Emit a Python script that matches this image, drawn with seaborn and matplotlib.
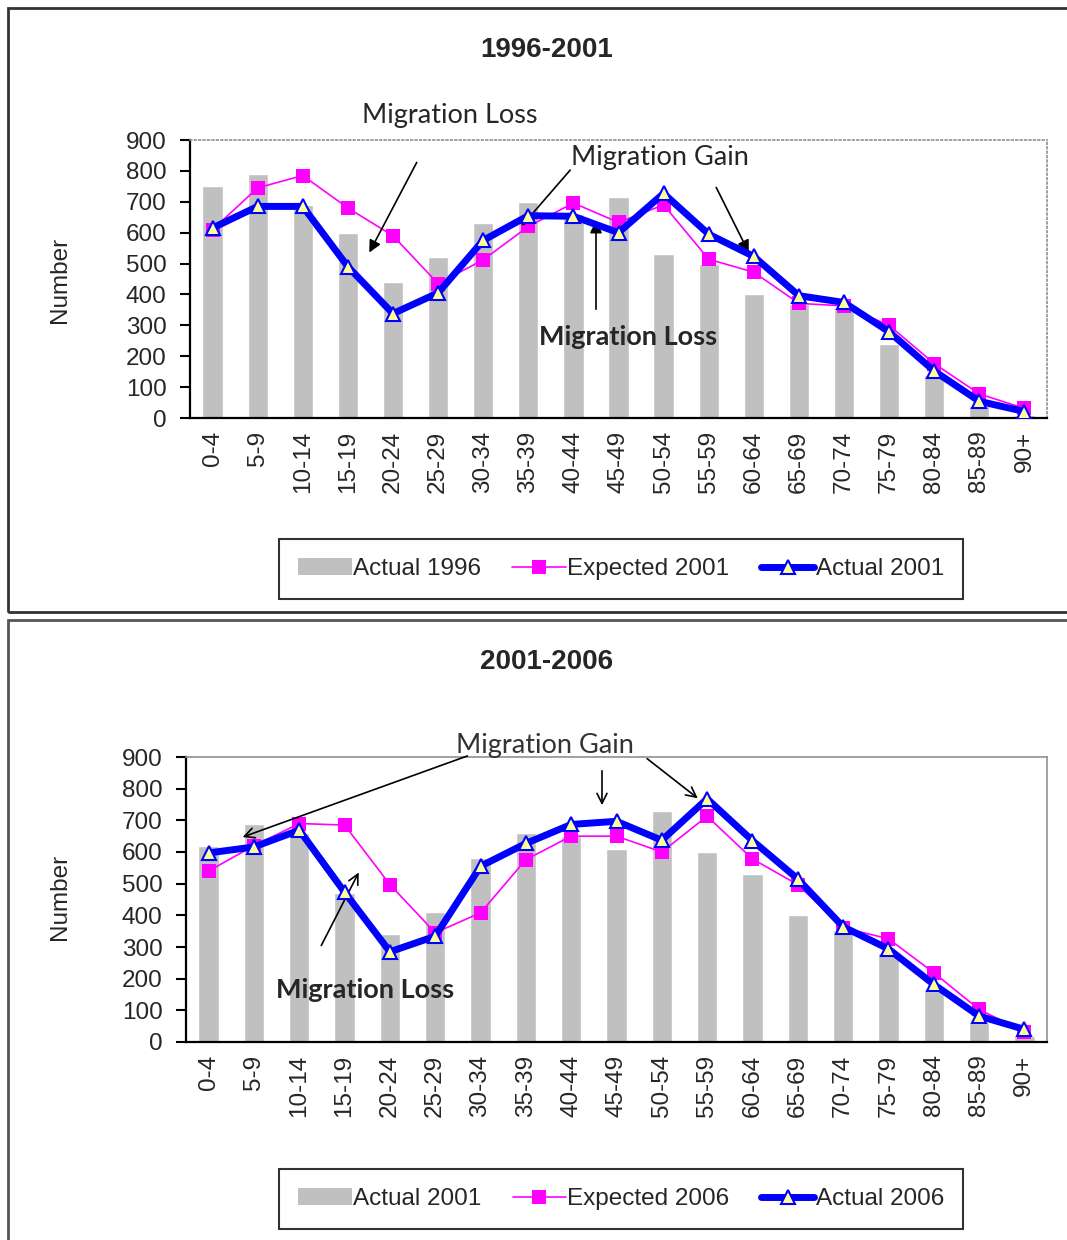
import matplotlib
matplotlib.use("Agg")
import matplotlib.pyplot as plt
import seaborn as sns
from matplotlib.patches import Patch, Rectangle
from matplotlib.lines import Line2D

ages = ["0-4", "5-9", "10-14", "15-19", "20-24", "25-29", "30-34", "35-39", "40-44",
        "45-49", "50-54", "55-59", "60-64", "65-69", "70-74", "75-79", "80-84", "85-89", "90+"]

# 1996-2001 panel
actual_1996 = [750, 790, 690, 600, 440, 520, 630, 700, 660, 715, 530, 500, 400, 370, 355, 240, 140, 40, 10]
expected_2001 = [610, 745, 785, 680, 590, 435, 512, 620, 696, 633, 690, 514, 472, 371, 363, 300, 176, 78, 31]
actual_2001 = [615, 685, 685, 490, 338, 405, 575, 655, 653, 600, 727, 595, 523, 396, 374, 279, 152, 54, 21]

# 2001-2006 panel
actual_2001_b = [620, 690, 660, 470, 340, 410, 580, 660, 650, 611, 729, 599, 529, 400, 355, 280, 161, 61, 20]
expected_2006 = [540, 620, 690, 685, 497, 345, 408, 576, 650, 650, 600, 713, 578, 497, 361, 326, 219, 103, 32]
actual_2006 = [597, 616, 669, 473, 285, 334, 555, 627, 687, 697, 637, 768, 636, 515, 364, 294, 182, 82, 40]

sns.set_theme(style="white")
plt.rcParams["font.family"] = ["Liberation Sans", "DejaVu Sans"]

W, H = 1067, 1240
fig = plt.figure(figsize=(W / 100, H / 100), dpi=100)

BAR = "#c0c0c0"
MAG = "#ff00ff"
BLUE = "#0000ff"
TRI = "#ffff99"
callout = ["Lato", "DejaVu Sans"]
FS = 17.5


def fp(x, y):
    # pixel from top-left -> figure fraction
    return (x / W, 1 - y / H)


def panel(box, bars, exp, act, labels, title, title_y, legend_y, ylab_y, frame_style):
    ax = fig.add_axes(box)
    sns.barplot(x=ages, y=bars, color=BAR, saturation=1, width=0.45, ax=ax, zorder=1)
    sns.pointplot(x=ages, y=exp, color=MAG, markers="s", linestyles="-", errorbar=None,
                  linewidth=1.2, markersize=10, markeredgewidth=0, ax=ax, zorder=3)
    sns.pointplot(x=ages, y=act, color=BLUE, markers="^", linestyles="-", errorbar=None,
                  linewidth=5, markersize=10, markerfacecolor=TRI, markeredgecolor=BLUE,
                  markeredgewidth=1.5, ax=ax, zorder=4)
    ax.set_xlim(-0.5, 18.5)
    ax.set_ylim(0, 900)
    ax.set_yticks(range(0, 901, 100))
    ax.set_xlabel("")
    ax.set_ylabel("")
    ax.set_xticks([i + 0.5 for i in range(-1, 19)], minor=True)
    ax.tick_params(axis="x", which="major", length=0, labelrotation=90, labelsize=FS, pad=9)
    ax.tick_params(axis="x", which="minor", length=7, width=1.5, color="black", direction="out")
    ax.tick_params(axis="y", length=7, width=1.5, color="black", direction="out", labelsize=FS, pad=10)
    ax.yaxis.set_ticks_position("left")
    for s in ["left", "bottom"]:
        ax.spines[s].set_color("black")
        ax.spines[s].set_linewidth(1.6)
    for s in ["top", "right"]:
        ax.spines[s].set_color("#909090")
        ax.spines[s].set_linewidth(1.2)
        ax.spines[s].set_linestyle(frame_style)
    ax.grid(False)

    fig.text(*fp(547, title_y), title, ha="center", va="center", fontsize=20, fontweight="bold")
    fig.text(*fp(60, ylab_y), "Number", ha="center", va="center", rotation=90, fontsize=FS)

    handles = [Patch(facecolor=BAR, edgecolor="none", label=labels[0]),
               Line2D([], [], color=MAG, marker="s", lw=1.2, ms=10, mew=0, label=labels[1]),
               Line2D([], [], color=BLUE, marker="^", lw=5, ms=10, mfc=TRI, mec=BLUE, mew=1.5,
                      label=labels[2])]
    leg = fig.legend(handles=handles, loc="center", bbox_to_anchor=fp(621, legend_y), ncol=3,
                     frameon=True, fancybox=False, edgecolor="black", fontsize=FS,
                     handlelength=2.2, handletextpad=0.05, columnspacing=1.3, borderpad=0.8)
    leg.get_frame().set_linewidth(1.5)
    return ax


ax1 = panel([190 / W, 1 - 418 / H, 857 / W, 278 / H], actual_1996, expected_2001, actual_2001,
            ["Actual 1996", "Expected 2001", "Actual 2001"], "1996-2001", 50, 569, 280, ":")
ax2 = panel([186 / W, 1 - 1042 / H, 861 / W, 285 / H], actual_2001_b, expected_2006, actual_2006,
            ["Actual 2001", "Expected 2006", "Actual 2006"], "2001-2006", 662, 1199, 897, "-")

# panel borders
fig.patches.append(Rectangle(fp(8, 612), 1.1, 604 / H, transform=fig.transFigure, fill=False,
                             edgecolor="#333333", lw=2))
fig.patches.append(Rectangle(fp(8, 1260), 1.1, 640 / H, transform=fig.transFigure, fill=False,
                             edgecolor="#555555", lw=2))

filled = dict(arrowstyle="-|>", color="black", lw=1.2, mutation_scale=18)
opened = dict(arrowstyle="->", color="black", lw=1.2, mutation_scale=18)
CFS = 19.5

# top callouts
fig.text(*fp(450, 115), "Migration Loss", ha="center", va="center", fontsize=CFS, family=callout)
ax1.annotate("", xy=fp(368, 255), xytext=fp(418, 160), xycoords="figure fraction",
             arrowprops=filled)
fig.text(*fp(660, 158), "Migration Gain", ha="center", va="center", fontsize=CFS, family=callout)
ax1.annotate("", xy=fp(520, 228), xytext=fp(572, 168), xycoords="figure fraction",
             arrowprops=filled)
ax1.annotate("", xy=fp(750, 255), xytext=fp(715, 185), xycoords="figure fraction",
             arrowprops=filled)
fig.text(*fp(628, 337), "Migration Loss", ha="center", va="center", fontsize=CFS,
         fontweight="bold", family=callout)
ax1.annotate("", xy=fp(596, 218), xytext=fp(596, 312), xycoords="figure fraction",
             arrowprops=filled)

# bottom callouts
fig.text(*fp(545, 745), "Migration Gain", ha="center", va="center", fontsize=CFS,
         color="#333333", family=callout)
ax2.annotate("", xy=fp(240, 838), xytext=fp(470, 755), xycoords="figure fraction",
             arrowprops=opened)
ax2.annotate("", xy=fp(602, 808), xytext=fp(602, 768), xycoords="figure fraction",
             arrowprops=opened)
ax2.annotate("", xy=fp(700, 800), xytext=fp(645, 757), xycoords="figure fraction",
             arrowprops=opened)
fig.text(*fp(365, 990), "Migration Loss", ha="center", va="center", fontsize=CFS,
         fontweight="bold", family=callout)
ax2.annotate("", xy=fp(360, 870), xytext=fp(320, 948), xycoords="figure fraction",
             arrowprops=opened)

fig.savefig("out.png", dpi=100)
